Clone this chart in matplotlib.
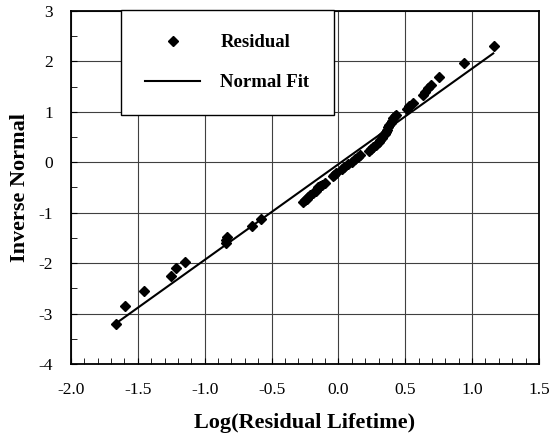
import numpy as np
import matplotlib
matplotlib.use("Agg")
import matplotlib.pyplot as plt
from matplotlib.ticker import MultipleLocator, FormatStrFormatter

# residual points (log lifetime, inverse normal)
log_life = [-1.666, -1.596, -1.452, -1.252, -1.217, -1.150, -0.843, -0.837, -0.831,
            -0.646, -0.579,
            -0.263, -0.250, -0.237, -0.224, -0.212, -0.188, -0.170, -0.150, -0.137,
            -0.125, -0.100, -0.043, -0.030, -0.018, 0.025, 0.044, 0.074, 0.100,
            0.124, 0.150, 0.162, 0.231, 0.245, 0.261, 0.280, 0.300, 0.311, 0.324,
            0.336, 0.346, 0.356, 0.365, 0.373, 0.382, 0.391, 0.401, 0.411, 0.423,
            0.431, 0.510, 0.530, 0.560, 0.630, 0.650, 0.670, 0.690, 0.755, 0.942,
            1.164]
inv_normal = [-3.20, -2.85, -2.55, -2.25, -2.105, -1.975, -1.61, -1.55, -1.49,
              -1.26, -1.13,
              -0.78, -0.75, -0.72, -0.68, -0.65, -0.61, -0.56, -0.50, -0.47,
              -0.45, -0.41, -0.27, -0.25, -0.22, -0.14, -0.09, -0.04, 0.01,
              0.06, 0.11, 0.14, 0.23, 0.26, 0.30, 0.34, 0.40, 0.44, 0.49,
              0.54, 0.57, 0.61, 0.65, 0.70, 0.74, 0.77, 0.82, 0.87, 0.91,
              0.94, 1.06, 1.11, 1.17, 1.33, 1.40, 1.47, 1.53, 1.70, 1.97,
              2.31]

# normal fit: z = (x - mu) / sigma
mu = 0.02
sigma = 0.527
fit_range = [-1.666, 1.158]

plt.rcParams["font.family"] = ["Liberation Serif", "DejaVu Serif"]
plt.rcParams["axes.unicode_minus"] = False

fig = plt.figure(figsize=(5.52, 4.42), dpi=100)
ax = fig.add_axes([0.1286, 0.1765, 0.8478, 0.7986])

fx = np.array(fit_range)
ax.plot(log_life, inv_normal, "D", color="black", markersize=5, label="Residual", zorder=3)
ax.plot(fx, (fx - mu) / sigma, "-", color="black", linewidth=1.5, label="Normal Fit", zorder=2)

ax.set_xlim(-2.0, 1.5)
ax.set_ylim(-4, 3)
ax.xaxis.set_major_locator(MultipleLocator(0.5))
ax.xaxis.set_minor_locator(MultipleLocator(0.1))
ax.yaxis.set_major_locator(MultipleLocator(1))
ax.yaxis.set_minor_locator(MultipleLocator(0.5))
ax.xaxis.set_major_formatter(FormatStrFormatter("%.1f"))
ax.tick_params(which="both", direction="in", top=False, right=False, labelsize=12.5)
ax.tick_params(which="major", length=4, pad=13)
ax.tick_params(axis="y", which="major", pad=13)
ax.tick_params(which="minor", length=4)
ax.grid(True, which="major", color="#404040", linewidth=0.8)
for s in ax.spines.values():
    s.set_linewidth(1.3)

ax.set_xlabel("Log(Residual Lifetime)", fontsize=16, fontweight="bold", labelpad=11)
ax.set_ylabel("Inverse Normal", fontsize=16, fontweight="bold", labelpad=6)

leg = ax.legend(loc="upper left", bbox_to_anchor=(0.107, 1.003), borderaxespad=0,
                fancybox=False, shadow=False, framealpha=1, edgecolor="black",
                prop={"weight": "bold", "size": 13.5}, borderpad=1.3,
                labelspacing=1.2, handlelength=2.9, handletextpad=1.1)
leg.get_frame().set_linewidth(1.0)

fig.savefig("out.png", dpi=100)
